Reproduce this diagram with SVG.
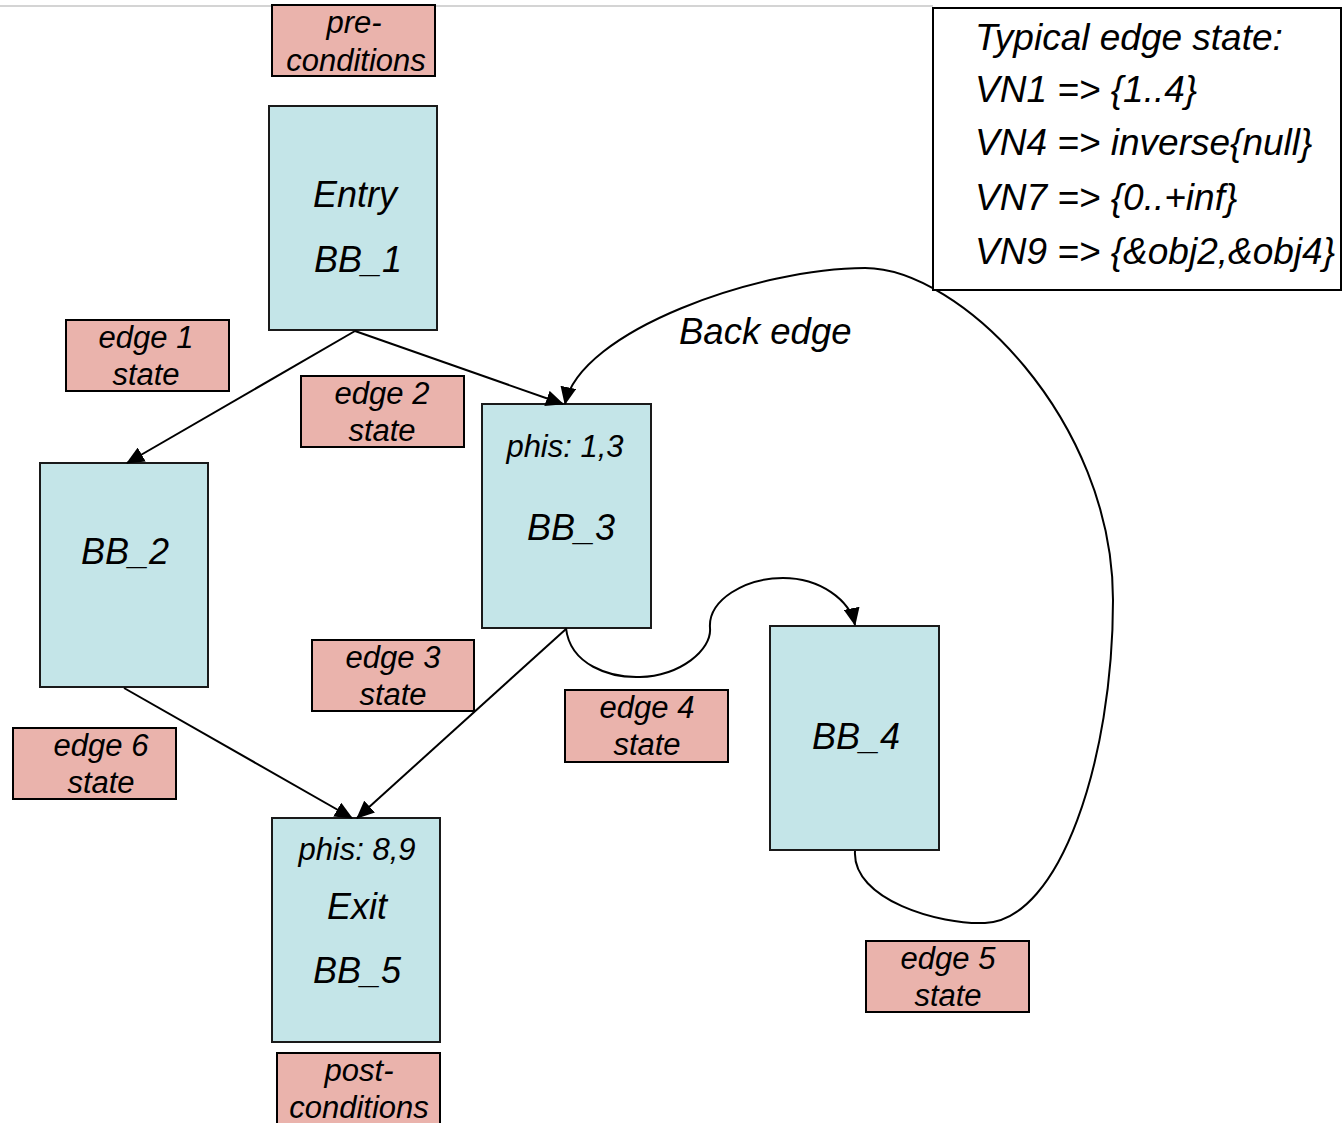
<svg xmlns="http://www.w3.org/2000/svg" width="1344" height="1123" viewBox="0 0 1344 1123">
<style>
text{font-family:"Liberation Sans",Arial,sans-serif;font-style:italic;fill:#000}
.bb{fill:#c4e5e8;stroke:#1a1a1a;stroke-width:2}
.st{fill:#eab3ac;stroke:#000;stroke-width:2}
.big{font-size:36px;text-anchor:middle}
.lbl{font-size:31px;text-anchor:middle}
.leg{font-size:37px}
.conn path{fill:none;stroke:#000;stroke-width:2;marker-end:url(#ah)}
</style>
<defs>
<marker id="ah" markerUnits="userSpaceOnUse" markerWidth="18" markerHeight="16" viewBox="0 0 18 16" refX="17" refY="8" orient="auto">
<path d="M0,0 L18,8 L0,16 Z" fill="#000"/>
</marker>
</defs>
<rect width="1344" height="1123" fill="#fff"/>
<line x1="0" y1="6" x2="933" y2="6" stroke="#d4d4d4" stroke-width="2"/>

<g id="pre"><rect class="st" x="272" y="5" width="163" height="71"/><text class="lbl" x="354" y="33">pre-</text><text class="lbl" x="356" y="71">conditions</text></g>
<g id="bb1"><rect class="bb" x="269" y="106" width="168" height="224"/><text class="big" x="355" y="207">Entry</text><text class="big" x="358" y="272">BB_1</text></g>
<g id="e1"><rect class="st" x="66" y="320" width="163" height="71"/><text class="lbl" x="146" y="348">edge 1</text><text class="lbl" x="146" y="385">state</text></g>
<g id="e2"><rect class="st" x="301" y="376" width="163" height="71"/><text class="lbl" x="382" y="404">edge 2</text><text class="lbl" x="382" y="441">state</text></g>
<g id="bb2"><rect class="bb" x="40" y="463" width="168" height="224"/><text class="big" x="125" y="564">BB_2</text></g>
<g id="bb3"><rect class="bb" x="482" y="404" width="169" height="224"/><text class="lbl" x="565" y="457">phis: 1,3</text><text class="big" x="571" y="540">BB_3</text></g>
<g id="e3"><rect class="st" x="312" y="640" width="162" height="71"/><text class="lbl" x="393" y="668">edge 3</text><text class="lbl" x="393" y="705">state</text></g>
<g id="e4"><rect class="st" x="565" y="690" width="163" height="72"/><text class="lbl" x="647" y="718">edge 4</text><text class="lbl" x="647" y="755">state</text></g>
<g id="bb4"><rect class="bb" x="770" y="626" width="169" height="224"/><text class="big" x="856" y="749">BB_4</text></g>
<g id="e6"><rect class="st" x="13" y="728" width="163" height="71"/><text class="lbl" x="101" y="756">edge 6</text><text class="lbl" x="101" y="793">state</text></g>
<g id="bb5"><rect class="bb" x="272" y="818" width="168" height="224"/><text class="lbl" x="357" y="860">phis: 8,9</text><text class="big" x="357" y="919">Exit</text><text class="big" x="357" y="983">BB_5</text></g>
<g id="e5"><rect class="st" x="866" y="941" width="163" height="71"/><text class="lbl" x="948" y="969">edge 5</text><text class="lbl" x="948" y="1006">state</text></g>
<g id="post"><rect class="st" x="277" y="1053" width="163" height="80"/><text class="lbl" x="359" y="1081">post-</text><text class="lbl" x="359" y="1118">conditions</text></g>
<g id="connectors" class="conn">
<path d="M355,331 L127,463"/>
<path d="M355,331 L563,404"/>
<path d="M124,688 L352,818"/>
<path d="M566,629 L357,818"/>
<path d="M566,628 C570,665 610,678 640,677 C680,676 712,650 710,628 C708,600 745,578 783,578 C820,578 850,600 855,625"/>
<path d="M855,851 C852,900 940,925 985,923 C1060,920 1113,760 1113,600 C1113,420 960,268 865,268 C760,268 580,330 565,404"/>
<text x="679" y="344" style="font-size:36.5px">Back edge</text>
</g>
<g id="legend"><rect x="933" y="8" width="408" height="282" fill="#fff" stroke="#000" stroke-width="2"/>
<text class="leg" x="975" y="50">Typical edge state:</text>
<text class="leg" x="975" y="102">VN1 =&gt; {1..4}</text>
<text class="leg" x="975" y="155">VN4 =&gt; inverse{null}</text>
<text class="leg" x="975" y="210">VN7 =&gt; {0..+inf}</text>
<text class="leg" x="975" y="264">VN9 =&gt; {&amp;obj2,&amp;obj4}</text>
</g>
</svg>
